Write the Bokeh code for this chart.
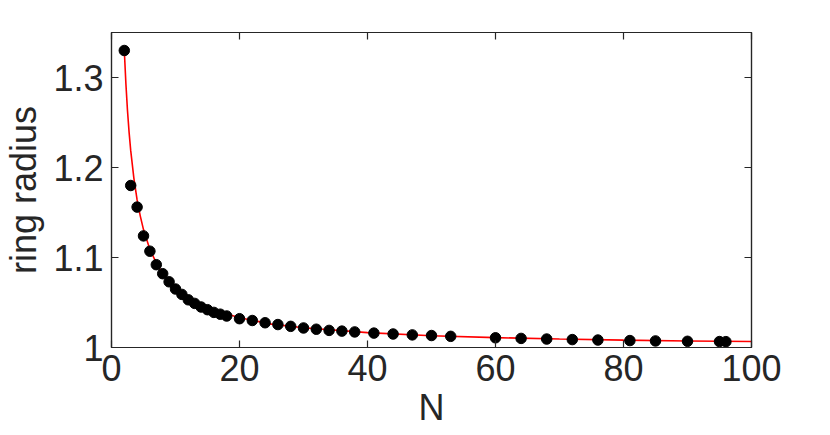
from bokeh.plotting import figure
from bokeh.models import LinearAxis, FixedTicker, Range1d
from bokeh.embed import file_html
from bokeh.resources import INLINE

# Dots: ring radius for N particles
n_points = [2, 3, 4, 5, 6, 7, 8, 9, 10, 11, 12, 13, 14, 15, 16, 17, 18,
            20, 22, 24, 26, 28, 30, 32, 34, 36, 38, 41, 44, 47, 50, 53,
            60, 64, 68, 72, 76, 81, 85, 90, 95, 96]
r_points = [1.330, 1.180, 1.156, 1.124, 1.107, 1.092, 1.082, 1.073, 1.065,
            1.059, 1.053, 1.049, 1.045, 1.042, 1.039, 1.037, 1.035,
            1.032, 1.030, 1.0275, 1.0255, 1.0235, 1.0217, 1.0203, 1.019,
            1.0182, 1.0173, 1.016, 1.015, 1.014, 1.0133, 1.0124,
            1.0108, 1.0101, 1.0094, 1.0088, 1.0083, 1.0077, 1.0073,
            1.0069, 1.0066, 1.0065]

# Red curve
line_n = [2, 2.25, 2.5, 2.75, 3, 3.5, 4, 4.5, 5, 6, 7, 8, 10, 12, 15, 20,
          25, 30, 40, 50, 60, 70, 80, 90, 100]
line_r = [1.330, 1.293, 1.263, 1.239, 1.219, 1.188, 1.164, 1.146, 1.131,
          1.109, 1.094, 1.082, 1.066, 1.055, 1.044, 1.033, 1.026, 1.022,
          1.0165, 1.013, 1.011, 1.0094, 1.0082, 1.0073, 1.0066]

x_ticks = [0, 20, 40, 60, 80, 100]
y_ticks = [1, 1.1, 1.2, 1.3]
y_tick_labels = ["1", "1.1", "1.2", "1.3"]

FONT = "Liberation Sans"
TXT = "#262626"
FS = "36px"

p = figure(width=814, height=430, output_backend="svg", toolbar_location=None,
           x_range=Range1d(0, 100), y_range=Range1d(1, 1.35),
           min_border_left=110, min_border_right=63,
           min_border_top=32, min_border_bottom=83)
p.grid.visible = False
p.outline_line_color = TXT
p.outline_line_width = 1.2
p.background_fill_color = "white"
p.border_fill_color = "white"

p.line(line_n, line_r, line_color="red", line_width=1.6)
p.scatter(n_points, r_points, size=10.5, fill_color="black", line_color="black")

def style(ax, labels=True):
    ax.axis_line_color = TXT
    ax.axis_line_width = 1.2
    ax.major_tick_line_color = TXT
    ax.major_tick_line_width = 1.2
    ax.major_tick_in = 7
    ax.major_tick_out = 0
    ax.minor_tick_line_color = None
    ax.major_label_text_font = FONT
    ax.major_label_text_font_size = FS
    ax.major_label_text_color = TXT if labels else None
    ax.axis_label_text_font = FONT
    ax.axis_label_text_font_size = FS
    ax.axis_label_text_font_style = "normal"
    ax.axis_label_text_color = TXT

xa = p.xaxis[0]
xa.ticker = FixedTicker(ticks=x_ticks)
xa.axis_label = "N"
xa.major_label_standoff = 7
xa.axis_label_standoff = 3
style(xa)

ya = p.yaxis[0]
ya.ticker = FixedTicker(ticks=y_ticks)
ya.major_label_overrides = {t: s for t, s in zip(y_ticks, y_tick_labels)}
ya.axis_label = "ring radius"
ya.major_label_standoff = 8
ya.axis_label_standoff = 6
style(ya)

top = LinearAxis(ticker=FixedTicker(ticks=x_ticks))
style(top, labels=False)
p.add_layout(top, "above")
right = LinearAxis(ticker=FixedTicker(ticks=y_ticks))
style(right, labels=False)
p.add_layout(right, "right")

open("out.html", "w").write(file_html(p, INLINE))
